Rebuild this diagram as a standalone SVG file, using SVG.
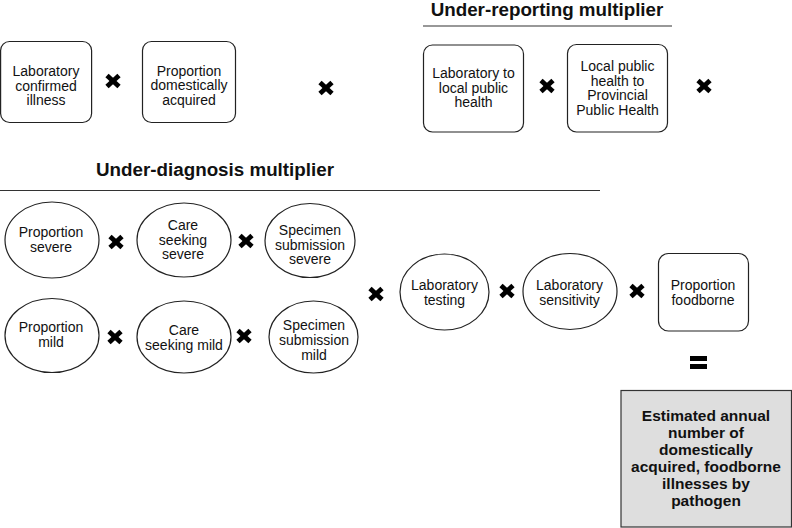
<svg xmlns="http://www.w3.org/2000/svg" width="792" height="528" viewBox="0 0 792 528">
<style>
.n{fill:#fff;stroke:#222;stroke-width:1.2}
.t{font-family:"Liberation Sans",Arial,sans-serif;font-size:14px;fill:#111;text-anchor:middle}
.h{font-family:"Liberation Sans",Arial,sans-serif;font-size:18.8px;font-weight:bold;fill:#111;text-anchor:middle}
.b{font-family:"Liberation Sans",Arial,sans-serif;font-size:15.5px;font-weight:bold;fill:#111;text-anchor:middle}
.rule{stroke:#333;stroke-width:1.2}
.x{stroke:#000;stroke-width:4.8;stroke-linecap:butt}
</style>
<defs>
<g id="times"><line class="x" x1="-6" y1="-5.5" x2="6" y2="5.5"/><line class="x" x1="6" y1="-5.5" x2="-6" y2="5.5"/></g>
</defs>
<rect width="792" height="528" fill="#fff"/>
<g id="headers">
<text class="h" x="547" y="16">Under-reporting multiplier</text>
<line class="rule" x1="423" y1="26" x2="672" y2="26"/>
<text class="h" x="215" y="176">Under-diagnosis multiplier</text>
<line class="rule" x1="0" y1="190.5" x2="600" y2="190.5"/>
</g>
<g id="n1"><rect class="n" x="0.6" y="41.5" width="91" height="81" rx="9"/><text class="t" x="46" y="76">Laboratory</text><text class="t" x="46" y="90.5">confirmed</text><text class="t" x="46" y="105">illness</text></g>
<g id="n2"><rect class="n" x="142.5" y="41.5" width="93" height="81" rx="9"/><text class="t" x="189" y="75.5">Proportion</text><text class="t" x="189" y="90">domestically</text><text class="t" x="189" y="104.5">acquired</text></g>
<g id="n3"><rect class="n" x="423.5" y="45" width="100" height="87" rx="9"/><text class="t" x="473.5" y="78">Laboratory to</text><text class="t" x="473.5" y="92.5">local public</text><text class="t" x="473.5" y="107">health</text></g>
<g id="n4"><rect class="n" x="567.5" y="44.5" width="100" height="87.5" rx="9"/><text class="t" x="617.5" y="71">Local public</text><text class="t" x="617.5" y="85.5">health to</text><text class="t" x="617.5" y="100">Provincial</text><text class="t" x="617.5" y="114.5">Public Health</text></g>
<g id="n5"><ellipse class="n" cx="52" cy="240" rx="47" ry="38"/><text class="t" x="51" y="237">Proportion</text><text class="t" x="51" y="252">severe</text></g>
<g id="n6"><ellipse class="n" cx="184" cy="240" rx="47" ry="37"/><text class="t" x="183" y="230">Care</text><text class="t" x="183" y="244.5">seeking</text><text class="t" x="183" y="259">severe</text></g>
<g id="n7"><ellipse class="n" cx="310" cy="240.5" rx="45" ry="37"/><text class="t" x="310" y="235">Specimen</text><text class="t" x="310" y="249.5">submission</text><text class="t" x="310" y="264">severe</text></g>
<g id="n8"><ellipse class="n" cx="52" cy="335.5" rx="47" ry="37"/><text class="t" x="51" y="332">Proportion</text><text class="t" x="51" y="347">mild</text></g>
<g id="n9"><ellipse class="n" cx="184" cy="337" rx="47" ry="36"/><text class="t" x="184" y="335">Care</text><text class="t" x="184" y="349.5">seeking mild</text></g>
<g id="n10"><ellipse class="n" cx="313.5" cy="337" rx="44.5" ry="36"/><text class="t" x="314" y="330">Specimen</text><text class="t" x="314" y="345">submission</text><text class="t" x="314" y="360">mild</text></g>
<g id="n11"><ellipse class="n" cx="444.5" cy="292" rx="44.5" ry="38"/><text class="t" x="444.5" y="290">Laboratory</text><text class="t" x="444.5" y="305">testing</text></g>
<g id="n12"><ellipse class="n" cx="570" cy="291.5" rx="47" ry="38"/><text class="t" x="569.5" y="290">Laboratory</text><text class="t" x="569.5" y="305">sensitivity</text></g>
<g id="n13"><rect class="n" x="658.5" y="253.5" width="90" height="77.5" rx="10"/><text class="t" x="703" y="290">Proportion</text><text class="t" x="703" y="305">foodborne</text></g>
<g id="n14"><rect x="621" y="390.5" width="170.5" height="136.5" fill="#dedede" stroke="#333" stroke-width="1.2"/>
<text class="b" x="706" y="421">Estimated annual</text><text class="b" x="706" y="438">number of</text><text class="b" x="706" y="455">domestically</text><text class="b" x="706" y="472">acquired, foodborne</text><text class="b" x="706" y="489">illnesses by</text><text class="b" x="706" y="506">pathogen</text></g>
<g id="connectors">
<use href="#times" x="113" y="81"/>
<use href="#times" x="326" y="88"/>
<use href="#times" x="547" y="86"/>
<use href="#times" x="704" y="86"/>
<use href="#times" x="116" y="242"/>
<use href="#times" x="246" y="241"/>
<use href="#times" x="115" y="337"/>
<use href="#times" x="244" y="336"/>
<use href="#times" x="376" y="294"/>
<use href="#times" x="507" y="291"/>
<use href="#times" x="637" y="291"/>
<rect x="690" y="356" width="17" height="5" fill="#000"/>
<rect x="690" y="364" width="17" height="5" fill="#000"/>
</g>
</svg>
